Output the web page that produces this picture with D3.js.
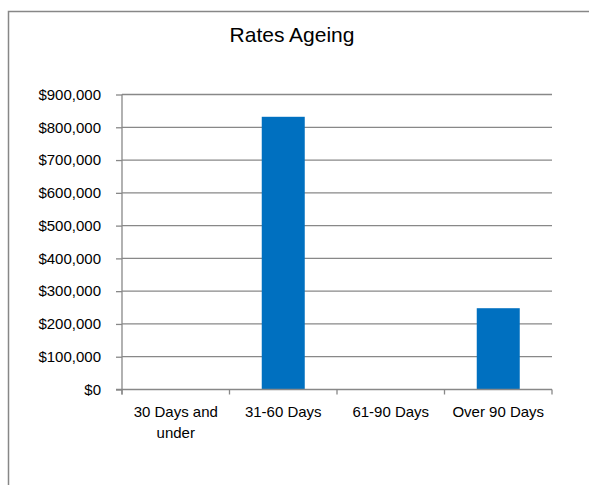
<!DOCTYPE html>
<html>
<head>
<meta charset="utf-8">
<script src="https://cdn.jsdelivr.net/npm/d3@7"></script>
<style>
  html, body { margin: 0; padding: 0; background: #fff; }
  svg { display: block; }
  text { font-family: "Liberation Sans", Arial, sans-serif; fill: #000; }
</style>
</head>
<body>
<script>
// Rates ageing buckets and outstanding amounts
const categories = ["30 Days and under", "31-60 Days", "61-90 Days", "Over 90 Days"];
const categoryLines = [["30 Days and", "under"], ["31-60 Days"], ["61-90 Days"], ["Over 90 Days"]];
const amounts = [0, 832000, 0, 248000];
const yTicks = [0, 100000, 200000, 300000, 400000, 500000, 600000, 700000, 800000, 900000];
const title = "Rates Ageing";

const W = 589, H = 485;
const plot = { left: 122, right: 552, top: 94.5, bottom: 389.5 };

const svg = d3.select("body").append("svg")
  .attr("width", W).attr("height", H);

// chart area frame
svg.append("rect")
  .attr("x", 8.5).attr("y", 11.5)
  .attr("width", W + 20).attr("height", H + 20)
  .attr("fill", "#fff")
  .attr("stroke", "#878787").attr("stroke-width", 1.5);

svg.append("text")
  .attr("x", 292).attr("y", 42)
  .attr("text-anchor", "middle")
  .style("font-size", "21px")
  .text(title);

const x = d3.scaleBand()
  .domain(categories)
  .range([plot.left, plot.right])
  .paddingInner(0.6).paddingOuter(0.3);

const xBand = d3.scaleBand()
  .domain(categories)
  .range([plot.left, plot.right]);

const y = d3.scaleLinear()
  .domain([0, 900000])
  .range([plot.bottom, plot.top]);

const fmt = v => "$" + d3.format(",")(v);

// horizontal gridlines
svg.append("g")
  .selectAll("line")
  .data(yTicks.filter(t => t > 0))
  .join("line")
  .attr("x1", plot.left).attr("x2", plot.right)
  .attr("y1", d => y(d)).attr("y2", d => y(d))
  .attr("stroke", "#888").attr("stroke-width", 1.3);

// bars
svg.append("g")
  .selectAll("rect")
  .data(amounts.map((v, i) => ({ c: categories[i], v })))
  .join("rect")
  .attr("x", d => x(d.c))
  .attr("width", x.bandwidth())
  .attr("y", d => y(d.v))
  .attr("height", d => y(0) - y(d.v))
  .attr("fill", "#0070C0");

// y axis
const yAxis = d3.axisLeft(y)
  .tickValues(yTicks)
  .tickFormat(fmt)
  .tickSize(6)
  .tickPadding(15);
const gy = svg.append("g")
  .attr("transform", `translate(${plot.left},0)`)
  .call(yAxis);
gy.select(".domain").remove();
gy.append("line")
  .attr("x1", 0).attr("x2", 0)
  .attr("y1", plot.top).attr("y2", plot.bottom + 5)
  .attr("stroke", "#888").attr("stroke-width", 1.3);
gy.selectAll(".tick line").attr("stroke", "#888").attr("stroke-width", 1.3);
gy.selectAll(".tick text")
  .style("font-size", "15px")
  .attr("font-family", null)
  .attr("fill", "#000");

// x axis
svg.append("line")
  .attr("x1", plot.left - 6).attr("x2", plot.right)
  .attr("y1", y(0)).attr("y2", y(0))
  .attr("stroke", "#888").attr("stroke-width", 1.3);

const tickXs = categories.map(c => xBand(c)).concat([plot.right]);
svg.append("g")
  .selectAll("line")
  .data(tickXs)
  .join("line")
  .attr("x1", d => d).attr("x2", d => d)
  .attr("y1", y(0)).attr("y2", y(0) + 5)
  .attr("stroke", "#888").attr("stroke-width", 1.3);

const xl = svg.append("g")
  .selectAll("text")
  .data(categories)
  .join("text")
  .attr("x", d => xBand(d) + xBand.bandwidth() / 2)
  .attr("y", 417)
  .attr("text-anchor", "middle")
  .style("font-size", "15px");
xl.each(function(d, i) {
  const t = d3.select(this);
  categoryLines[i].forEach((line, j) => {
    t.append("tspan")
      .attr("x", xBand(d) + xBand.bandwidth() / 2)
      .attr("dy", j === 0 ? 0 : 21)
      .text(line);
  });
});
</script>
</body>
</html>
